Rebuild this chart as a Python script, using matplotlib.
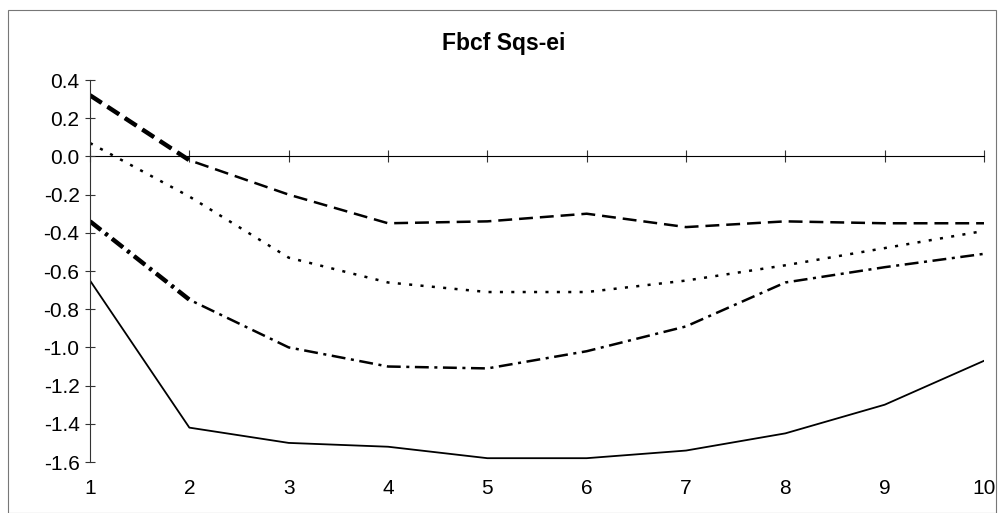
import matplotlib.pyplot as plt
from matplotlib.patches import Rectangle

plt.rcParams['font.family'] = ['Liberation Sans', 'DejaVu Sans']
plt.rcParams['lines.scale_dashes'] = False

# data
periods = [1, 2, 3, 4, 5, 6, 7, 8, 9, 10]
upper = [0.32, -0.02, -0.20, -0.35, -0.34, -0.30, -0.37, -0.34, -0.35, -0.35]
middle = [0.07, -0.21, -0.53, -0.66, -0.71, -0.71, -0.65, -0.57, -0.48, -0.39]
lower = [-0.34, -0.75, -1.00, -1.10, -1.11, -1.02, -0.89, -0.66, -0.58, -0.51]
solid = [-0.65, -1.42, -1.50, -1.52, -1.58, -1.58, -1.54, -1.45, -1.30, -1.07]
yticks = [0.4, 0.2, 0.0, -0.2, -0.4, -0.6, -0.8, -1.0, -1.2, -1.4, -1.6]

fig = plt.figure(figsize=(9.98, 5.13), dpi=100)
ax = fig.add_axes([0.0902, 0.0994, 0.8958, 0.7446])

# outer frame of the chart
fig.patches.append(Rectangle((0.008, 0.0), 0.99, 0.980, transform=fig.transFigure,
                             fill=False, edgecolor='#777777', linewidth=0.8))

# dashed series (first segment drawn heavier like the original)
ax.plot(periods, upper, color='black', lw=1.8, dashes=(10, 5))
ax.plot(periods[:2], upper[:2], color='black', lw=3.2, dashes=(10, 5))
# dotted series
ax.plot(periods, middle, color='black', lw=1.8, dashes=(2.2, 6))
# dash-dot series
ax.plot(periods, lower, color='black', lw=1.8, dashes=(10, 4, 2.2, 4))
ax.plot(periods[:2], lower[:2], color='black', lw=3.2, dashes=(10, 4, 2.2, 4))
# solid series
ax.plot(periods, solid, color='black', lw=1.3)

ax.set_xlim(1, 10)
ax.set_ylim(-1.6, 0.4)
ax.set_yticks(yticks)
ax.set_yticklabels(['%.1f' % v for v in yticks])
ax.set_xticks(periods)
ax.set_xticklabels([str(p) for p in periods])

for s in ['top', 'right', 'bottom']:
    ax.spines[s].set_visible(False)
ax.spines['left'].set_color('#333333')
ax.spines['left'].set_linewidth(0.8)

ax.tick_params(axis='y', direction='inout', length=7, width=0.8, color='#333333',
               labelsize=15, pad=4)
ax.tick_params(axis='x', length=0, labelsize=15, pad=12)

# zero line with tick marks
zero_ax = ax.secondary_xaxis(0.8)
zero_ax.set_xticks(periods)
zero_ax.set_xticklabels([])
zero_ax.tick_params(direction='inout', length=8, width=0.8, color='#333333')
zero_ax.spines['bottom'].set_color('#333333')
zero_ax.spines['bottom'].set_linewidth(0.8)

fig.text(0.505, 0.915, 'Fbcf Sqs-ei', ha='center', va='center',
         fontsize=16.5, fontweight='bold')

fig.savefig('out.png', dpi=100)
